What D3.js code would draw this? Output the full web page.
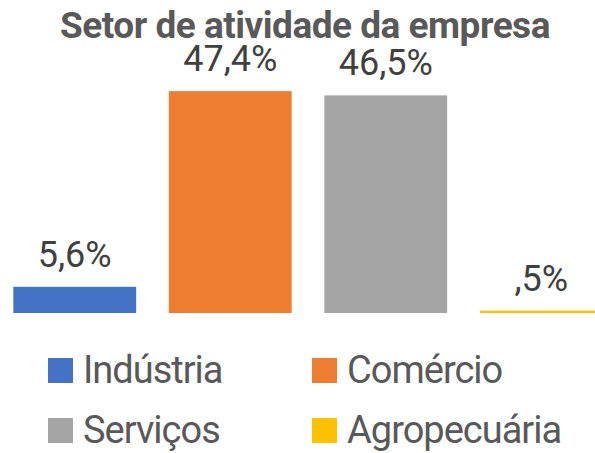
<!DOCTYPE html>
<html>
<head>
<meta charset="utf-8">
<script src="https://cdn.jsdelivr.net/npm/d3@7"></script>
<style>
  html, body { margin: 0; padding: 0; background: #fff; }
  svg { display: block; font-family: Roboto, "Noto Sans", sans-serif; }
</style>
</head>
<body>
<svg id="chart" width="595" height="453"></svg>
<script>
// Sector of activity of the companies (share of respondents, %)
const categories = ["Indústria", "Comércio", "Serviços", "Agropecuária"];
const values = [5.6, 47.4, 46.5, 0.5];
const valueLabels = ["5,6%", "47,4%", "46,5%", ",5%"];
const colors = ["#4472C4", "#ED7D31", "#A5A5A5", "#FFC000"];
const title = "Setor de atividade da empresa";

const svg = d3.select("#chart");
const baseline = 313;

const x = d3.scaleBand()
  .domain(categories)
  .range([-3, 619])
  .paddingInner(0.21)
  .paddingOuter(0.105);

const y = d3.scaleLinear()
  .domain([0, 50])
  .range([baseline, baseline - 234]);

const color = d3.scaleOrdinal().domain(categories).range(colors);

// Title
svg.append("text")
  .attr("x", 305)
  .attr("y", 38)
  .attr("text-anchor", "middle")
  .attr("font-size", 37)
  .attr("font-weight", "bold")
  .attr("letter-spacing", -0.5)
  .attr("fill", "#595959")
  .text(title);

const data = categories.map((c, i) => ({ c, v: values[i], label: valueLabels[i] }));

// Bars
svg.append("g").selectAll("rect")
  .data(data)
  .join("rect")
  .attr("x", d => x(d.c))
  .attr("width", x.bandwidth())
  .attr("y", d => y(d.v))
  .attr("height", d => y(0) - y(d.v))
  .attr("fill", d => color(d.c));

// Value labels above bars
svg.append("g").selectAll("text")
  .data(data)
  .join("text")
  .attr("x", d => x(d.c) + x.bandwidth() / 2)
  .attr("y", d => y(d.v) - 20)
  .attr("text-anchor", "middle")
  .attr("font-size", 36)
  .attr("fill", "#404040")
  .text(d => d.label);

// Legend: two columns, two rows
const legendCols = [48, 312];
const legendRows = [358, 418];
const sw = 25;
const legend = svg.append("g").selectAll("g")
  .data(data)
  .join("g")
  .attr("transform", (d, i) => `translate(${legendCols[i % 2]},${legendRows[Math.floor(i / 2)]})`);

legend.append("rect")
  .attr("width", sw)
  .attr("height", sw)
  .attr("fill", d => color(d.c));

legend.append("text")
  .attr("x", sw + 10)
  .attr("y", sw)
  .attr("font-size", 38)
  .attr("letter-spacing", -1)
  .attr("fill", "#595959")
  .text(d => d.c);
</script>
</body>
</html>
